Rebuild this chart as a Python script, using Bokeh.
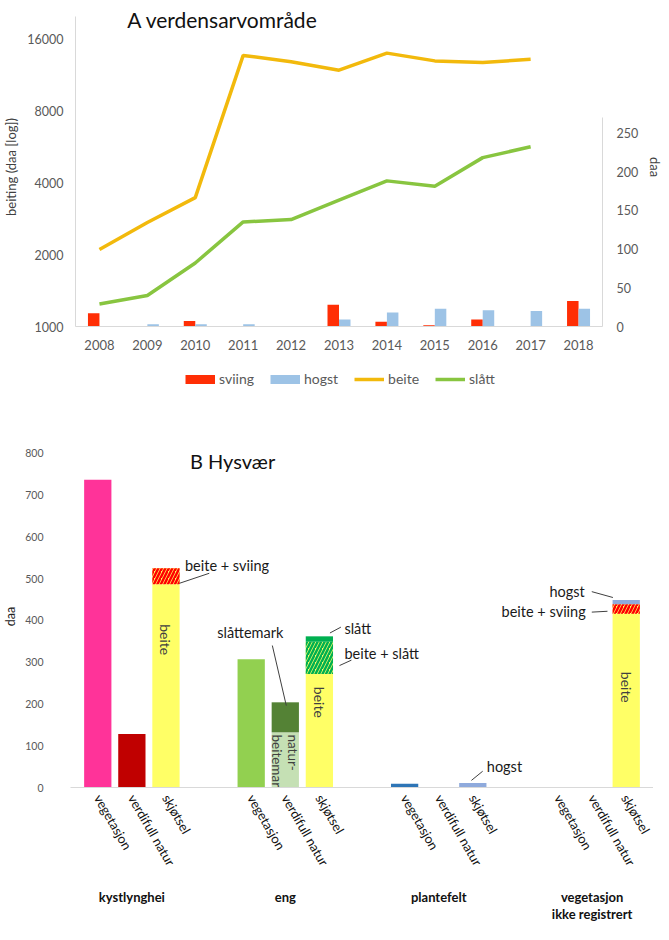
import math
from bokeh.plotting import figure
from bokeh.models import (ColumnDataSource, Range1d, LinearAxis, FixedTicker, NumeralTickFormatter,
                          Legend, LegendItem, Label, FactorRange, CategoricalAxis, LinearScale)
from bokeh.transform import dodge
from bokeh.layouts import column
from bokeh.embed import file_html
from bokeh.resources import INLINE

FONT = "Lato"
GRAY = "#595959"
AXIS = "#D9D9D9"

# ---------------- A: verdensarvområde ----------------
years = [2008, 2009, 2010, 2011, 2012, 2013, 2014, 2015, 2016, 2017, 2018]
sviing = [17, 0, 7, 0, 0, 28, 6, 1.5, 9, 0, 33]
hogst_a = [0, 3, 3, 3, 0, 9, 18, 23, 21, 20, 23]
line_years = [2008, 2009, 2010, 2011, 2012, 2013, 2014, 2015, 2016, 2017]
beite_a = [2100, 2720, 3460, 13600, 12800, 11800, 13900, 12900, 12700, 13100]
slatt_a = [29, 40, 82, 135, 138, 163, 188, 181, 218, 232]
log_ticks = [1000, 2000, 4000, 8000, 16000]
daa_ticks = [0, 50, 100, 150, 200, 250]

# ---------------- B: Hysvær ----------------
groups = ["kystlynghei", "eng", "plantefelt", "vegetasjon\nikke registrert"]
subs = ["vegetasjon", "verdifull natur", "skjøtsel"]
vegetasjon = [737, 307, 9, 0]
veg_colors = ["#FF3399", "#92D050", "#2E75B6", "#FFFFFF"]
verdifull_natur = [128, 132, 0, 0]          # verdifull natur / naturbeitemark
verdi_colors = ["#C00000", "#C5E0B4", "#FFFFFF", "#FFFFFF"]
slattemark = [0, 72, 0, 0]
beite_b = [487, 272, 0, 416]
beite_sviing = [38, 0, 0, 23]
beite_slatt = [0, 77, 0, 0]
slatt_b = [0, 13, 0, 0]
hogst_b = [0, 0, 11, 10]
b_ticks = [0, 100, 200, 300, 400, 500, 600, 700, 800]

SV_COL, HO_COL, BE_COL, SL_COL = "#FF2E05", "#9DC3E6", "#F2B90C", "#88C540"

# ======================= figure A =======================
pA = figure(frame_width=527, height=358, x_range=Range1d(2007.5, 2018.5),
            y_range=Range1d(1000, 21570), y_axis_type="log",
            output_backend="svg", toolbar_location=None, frame_align=False,
            min_border_top=7, min_border_left=70, min_border_right=40, min_border_bottom=32)
pA.extra_y_ranges = {"daa": Range1d(0, 411.8)}
pA.extra_y_scales = {"daa": LinearScale()}
pA.grid.visible = False
pA.outline_line_color = None

srcA = ColumnDataSource(dict(year=years, sviing=sviing, hogst=hogst_a))
pA.vbar(x=dodge("year", -0.12), top="sviing", width=0.24, source=srcA,
        y_range_name="daa", fill_color=SV_COL, line_color=None)
pA.vbar(x=dodge("year", 0.12), top="hogst", width=0.24, source=srcA,
        y_range_name="daa", fill_color=HO_COL, line_color=None)
srcL = ColumnDataSource(dict(year=line_years, beite=beite_a, slatt=slatt_a))
pA.line(x="year", y="beite", source=srcL, line_color=BE_COL, line_width=3.5)
pA.line(x="year", y="slatt", source=srcL, y_range_name="daa", line_color=SL_COL, line_width=3.5)

xa = pA.xaxis[0]
xa.ticker = FixedTicker(ticks=years)
xa.major_tick_line_color = None
xa.major_tick_out = 0
xa.minor_tick_out = 0
xa.minor_tick_line_color = None
xa.axis_line_color = AXIS
xa.major_label_text_font = FONT
xa.major_label_text_font_size = "13px"
xa.major_label_text_color = GRAY
xa.major_label_standoff = 13

ya = pA.yaxis[0]
ya.ticker = FixedTicker(ticks=log_ticks)
ya.formatter = NumeralTickFormatter(format="0")
ya.bounds = (1000, 19800)
ya.major_tick_line_color = None
ya.major_tick_out = 0
ya.minor_tick_out = 0
ya.minor_tick_line_color = None
ya.axis_line_color = AXIS
ya.major_label_text_font = FONT
ya.major_label_text_font_size = "12.5px"
ya.major_label_text_color = GRAY
ya.major_label_standoff = 12
ya.axis_label = "beiting (daa [log])"
ya.axis_label_text_font = FONT
ya.axis_label_text_font_size = "13px"
ya.axis_label_text_font_style = "normal"
ya.axis_label_text_color = "#404040"
ya.axis_label_standoff = 5

ra = LinearAxis(y_range_name="daa", ticker=FixedTicker(ticks=daa_ticks), bounds=(0, 270),
                axis_label="daa")
ra.major_tick_line_color = None
ra.major_tick_out = 0
ra.minor_tick_out = 0
ra.minor_tick_line_color = None
ra.axis_line_color = AXIS
ra.major_label_text_font = FONT
ra.major_label_text_font_size = "12.5px"
ra.major_label_text_color = GRAY
ra.major_label_standoff = 14
ra.axis_label_text_font = FONT
ra.axis_label_text_font_size = "13px"
ra.axis_label_text_font_style = "normal"
ra.axis_label_text_color = "#404040"
ra.axis_label_standoff = 6
pA.add_layout(ra, "right")

pA.add_layout(Label(x=2008.58, y=19200, text="A verdensarvområde", text_font=FONT,
                    text_font_size="21px", text_color="#111111", text_baseline="middle"))

# ======================= legend strip =======================
pL = figure(width=653, height=38, x_range=Range1d(0, 1), y_range=Range1d(0, 1),
            output_backend="svg", toolbar_location=None, min_border=0, frame_align=False)
pL.axis.visible = False
pL.grid.visible = False
pL.outline_line_color = None
off = dict(x=[-5, -4], y=[-5, -5])   # legend keys only, kept outside the visible range
g_sv = pL.line(x=off["x"], y=off["y"], line_color=SV_COL, line_width=9, line_cap="butt")
g_ho = pL.line(x=off["x"], y=off["y"], line_color=HO_COL, line_width=9, line_cap="butt")
g_be = pL.line(x=off["x"], y=off["y"], line_color=BE_COL, line_width=3.5)
g_sl = pL.line(x=off["x"], y=off["y"], line_color=SL_COL, line_width=3.5)
legend = Legend(items=[LegendItem(label="sviing", renderers=[g_sv]),
                       LegendItem(label="hogst", renderers=[g_ho]),
                       LegendItem(label="beite", renderers=[g_be]),
                       LegendItem(label="slått", renderers=[g_sl])],
                orientation="horizontal", location=(185, 9), border_line_color=None,
                background_fill_alpha=0, margin=0, padding=2, spacing=16, label_standoff=4,
                glyph_width=30, glyph_height=16, label_height=16, label_text_font=FONT,
                label_text_font_size="14px", label_text_color=GRAY)
pL.add_layout(legend)

# ======================= figure B =======================
factors = [(g, s) for g in groups for s in subs]
xr = FactorRange(*factors, group_padding=1.5, range_padding=0.3, range_padding_units="absolute")
pB = figure(width=653, height=534, x_range=xr, y_range=Range1d(0, 819),
            output_backend="svg", toolbar_location=None, frame_align=False,
            min_border_top=49, min_border_left=64, min_border_right=0, min_border_bottom=143)
pB.grid.visible = False
pB.outline_line_color = None

W = 0.8
xs = [(g, "vegetasjon") for g, v in zip(groups, vegetasjon) if v > 0]
pB.vbar(x=xs, top=[v for v in vegetasjon if v > 0], width=W,
        fill_color=[c for c, v in zip(veg_colors, vegetasjon) if v > 0], line_color=None)
xs = [(g, "verdifull natur") for g, v in zip(groups, verdifull_natur) if v > 0]
pB.vbar(x=xs, top=[v for v in verdifull_natur if v > 0], width=W,
        fill_color=[c for c, v in zip(verdi_colors, verdifull_natur) if v > 0], line_color=None)
xs = [(g, "verdifull natur") for g, v in zip(groups, slattemark) if v > 0]
pB.vbar(x=xs, bottom=[b for b, v in zip(verdifull_natur, slattemark) if v > 0],
        top=[b + v for b, v in zip(verdifull_natur, slattemark) if v > 0],
        width=W, fill_color="#548235", line_color=None)
layers = [(beite_b, "#FFFF66", None), (beite_sviing, "#FFFF66", "#FF0000"),
          (beite_slatt, "#FFFF66", "#00B050"), (slatt_b, "#00B050", None),
          (hogst_b, "#8FAADC", None)]
base = [0, 0, 0, 0]
for vals, fc, hc in layers:
    xs = [(g, "skjøtsel") for g, v in zip(groups, vals) if v > 0]
    bots = [b for b, v in zip(base, vals) if v > 0]
    tops = [b + v for b, v in zip(base, vals) if v > 0]
    kw = {}
    if hc:
        kw = dict(hatch_pattern="/", hatch_color=hc, hatch_weight=2.5, hatch_scale=7)
    pB.vbar(x=xs, bottom=bots, top=tops, width=W, fill_color=fc, line_color=None, **kw)
    base = [b + v for b, v in zip(base, vals)]

G = groups
pB.text(x=[(G[0], "skjøtsel"), (G[1], "skjøtsel"), (G[3], "skjøtsel")],
        y=[354, 204, 240], text=["beite", "beite", "beite"], angle=-math.pi / 2,
        text_align="center", text_baseline="middle", text_font_size="14px",
        text_color="#404040", text_font={"value": FONT})
pB.text(x=[(G[1], "verdifull natur")], y=[127], text=["natur-\nbeitemark"], angle=-math.pi / 2,
        text_align="left", text_baseline="middle", text_font_size="13.5px",
        text_color="#404040", text_font={"value": FONT}, text_line_height=1.0)

ann_x = [(G[0], "skjøtsel"), (G[1], "verdifull natur"), (G[1], "skjøtsel"), (G[1], "skjøtsel"),
         (G[2], "skjøtsel"), (G[3], "skjøtsel"), (G[3], "skjøtsel")]
ann_text = ["beite + sviing", "slåttemark", "slått", "beite + slått", "hogst", "hogst", "beite + sviing"]
ann_y = [532, 371, 381, 321, 51, 470, 421]
ann_dx = [19, -35, 25, 25, 14, -41.5, -40.5]
ann_align = ["left", "center", "left", "left", "left", "right", "right"]
pB.text(x=ann_x, y=ann_y, x_offset=ann_dx, text=ann_text, text_align=ann_align,
        text_baseline="middle", text_font_size="14.5px", text_color="#1A1A1A",
        text_font={"value": FONT})
leaders = [(0.395, 489, 1.27, 513), (-0.38, 340, 0.03, 196), (0.31, 370, 0.63, 384),
           (0.59, 292, 0.94, 305), (-0.04, 17, 0.29, 39), (-1.01, 469, -0.39, 455),
           (-1.01, 420, -0.55, 422)]
for fac, (dx0, y0, dx1, y1) in zip(ann_x, leaders):
    s = ColumnDataSource(dict(x=[fac], y0=[y0], y1=[y1]))
    pB.segment(x0=dodge("x", dx0, range=xr), y0="y0", x1=dodge("x", dx1, range=xr), y1="y1",
               source=s, line_color="#404040", line_width=1)

pB.text(x=[(G[0], "skjøtsel")], y=[783], x_offset=[24], text=["B Hysvær"],
        text_align="left", text_baseline="middle", text_font_size="20px",
        text_color="#111111", text_font={"value": FONT})

xb = pB.xaxis[0]
xb.major_label_orientation = -math.radians(60)
xb.major_label_text_font = FONT
xb.major_label_text_font_size = "13px"
xb.major_label_text_color = "#111111"
xb.major_label_standoff = 8
xb.major_tick_out = 0
xb.group_text_color = None
xb.group_text_font_size = "1px"
xb.separator_line_color = None
xb.major_tick_line_color = None
xb.axis_line_color = AXIS

xg = CategoricalAxis()
xg.major_label_text_color = None
xg.major_label_text_font_size = "1px"
xg.major_label_standoff = 13
xg.major_tick_out = 0
xg.group_text_font = FONT
xg.group_text_font_size = "13px"
xg.group_text_font_style = "bold"
xg.group_text_color = "#111111"
xg.group_text_line_height = 1.1
xg.separator_line_color = None
xg.major_tick_line_color = None
xg.minor_tick_line_color = None
xg.axis_line_color = None
pB.add_layout(xg, "below")

yb = pB.yaxis[0]
yb.ticker = FixedTicker(ticks=b_ticks)
yb.major_tick_line_color = None
yb.major_tick_out = 0
yb.minor_tick_out = 0
yb.minor_tick_line_color = None
yb.axis_line_color = None
yb.major_label_text_font = FONT
yb.major_label_text_font_size = "10.5px"
yb.major_label_text_color = GRAY
yb.major_label_standoff = 27
yb.axis_label = "daa"
yb.axis_label_text_font = FONT
yb.axis_label_text_font_size = "12.5px"
yb.axis_label_text_font_style = "normal"
yb.axis_label_text_color = "#222222"
yb.axis_label_standoff = 4

layout = column(pA, pL, pB)
open("out.html", "w").write(file_html(layout, INLINE))
